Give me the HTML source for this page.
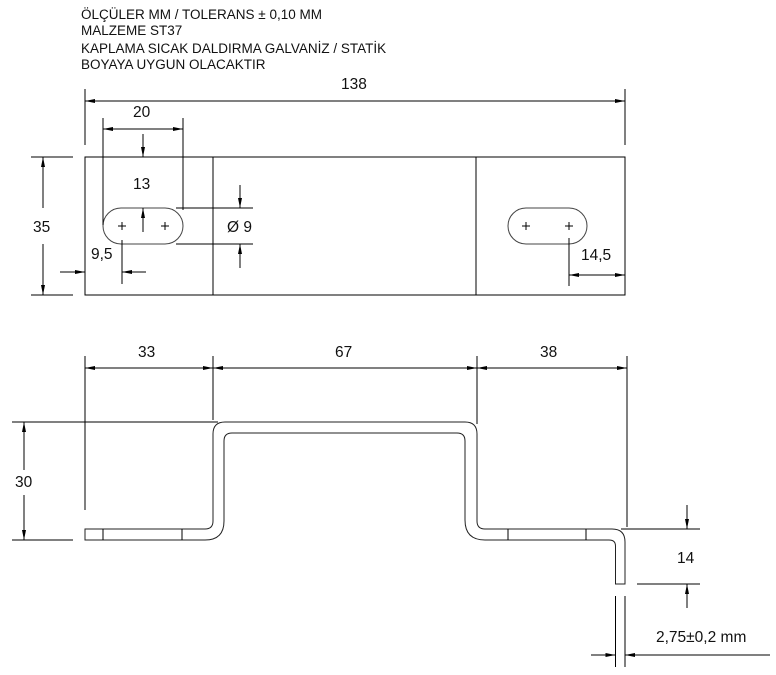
<!DOCTYPE html>
<html><head><meta charset="utf-8"><style>
html,body{margin:0;padding:0;background:#fff;}
svg{display:block}
text{font-family:"Liberation Sans",Arial,sans-serif;fill:#111;}
</style></head><body>
<svg width="776" height="675" viewBox="0 0 776 675" xmlns="http://www.w3.org/2000/svg">
<defs>
<marker id="a" viewBox="0 0 10 4" refX="10" refY="2" markerWidth="10" markerHeight="4" markerUnits="userSpaceOnUse" orient="auto-start-reverse">
<path d="M0,0 L10,2 L0,4 z" fill="#000"/></marker>
</defs>
<g font-size="13.5">
<text x="81" y="19">ÖLÇÜLER MM / TOLERANS ± 0,10 MM</text>
<text x="81" y="35">MALZEME ST37</text>
<text x="81" y="53">KAPLAMA SICAK DALDIRMA GALVANİZ / STATİK</text>
<text x="81" y="69">BOYAYA UYGUN OLACAKTIR</text>
</g>
<g stroke="#000" stroke-width="1" fill="none">
<rect x="85" y="157" width="540" height="138"/>
<line x1="213" y1="157" x2="213" y2="295"/>
<line x1="476" y1="157" x2="476" y2="295"/>
<path d="M121,208 H165 A18,18 0 0 1 165,244 H121 A18,18 0 0 1 121,208 Z" stroke="#444"/>
<path d="M526,208 H569 A18,18 0 0 1 569,244 H526 A18,18 0 0 1 526,208 Z" stroke="#444"/>
<path d="M118,226 h8 M122,222 v8 M161,226 h8 M165,222 v8 M522,226 h8 M526,222 v8 M565,226 h8 M569,222 v8"/>
<line x1="85" y1="89" x2="85" y2="145"/>
<line x1="625" y1="89" x2="625" y2="145"/>
<line x1="85" y1="101" x2="625" y2="101" marker-start="url(#a)" marker-end="url(#a)"/>
<line x1="103" y1="118" x2="103" y2="225"/>
<line x1="183" y1="118" x2="183" y2="210"/>
<line x1="103" y1="129" x2="183" y2="129" marker-start="url(#a)" marker-end="url(#a)"/>
<line x1="143" y1="134" x2="143" y2="157" marker-end="url(#a)"/>
<line x1="143" y1="232" x2="143" y2="208" marker-end="url(#a)"/>
<line x1="31" y1="157" x2="73" y2="157"/>
<line x1="31" y1="295" x2="73" y2="295"/>
<line x1="43" y1="157" x2="43" y2="208" marker-start="url(#a)"/>
<line x1="43" y1="244" x2="43" y2="295" marker-end="url(#a)"/>
<line x1="122" y1="240" x2="122" y2="284"/>
<line x1="60" y1="272" x2="85" y2="272" marker-end="url(#a)"/>
<line x1="146" y1="272" x2="122" y2="272" marker-end="url(#a)"/>
<line x1="176" y1="208" x2="253" y2="208"/>
<line x1="176" y1="244" x2="253" y2="244"/>
<line x1="240" y1="185" x2="240" y2="208" marker-end="url(#a)"/>
<line x1="240" y1="268" x2="240" y2="244" marker-end="url(#a)"/>
<line x1="569" y1="238" x2="569" y2="286"/>
<line x1="569" y1="275" x2="625" y2="275" marker-start="url(#a)" marker-end="url(#a)"/>
<line x1="85" y1="356" x2="85" y2="510"/>
<line x1="213" y1="356" x2="213" y2="420"/>
<line x1="477" y1="356" x2="477" y2="424"/>
<line x1="627" y1="356" x2="627" y2="527"/>
<line x1="85" y1="368" x2="213" y2="368" marker-start="url(#a)" marker-end="url(#a)"/>
<line x1="213" y1="368" x2="477" y2="368" marker-start="url(#a)" marker-end="url(#a)"/>
<line x1="477" y1="368" x2="627" y2="368" marker-start="url(#a)" marker-end="url(#a)"/>
<line x1="12" y1="422" x2="218" y2="422"/>
<line x1="12" y1="540" x2="73" y2="540"/>
<line x1="24" y1="422" x2="24" y2="470" marker-start="url(#a)"/>
<line x1="24" y1="495" x2="24" y2="540" marker-end="url(#a)"/>
<path d="M85,529 H205 Q213,529 213,521 V434 Q213,422 225,422 H465 Q477,422 477,434 V521 Q477,529 485,529 H612 Q625,529 625,542 V584 H615.5 V546 Q615.5,540 609,540 H485 Q465,540 465,520 V441 Q465,433 457,433 H232 Q224,433 224,441 V521 Q224,540 205,540 H85 Z" stroke="#222"/>
<path d="M103,529 v11 M182,529 v11 M508,529 v11 M586,529 v11"/>
<line x1="621" y1="529" x2="700" y2="529"/>
<line x1="637" y1="584" x2="700" y2="584"/>
<line x1="687" y1="505" x2="687" y2="529" marker-end="url(#a)"/>
<line x1="687" y1="608" x2="687" y2="584" marker-end="url(#a)"/>
<line x1="615.5" y1="596" x2="615.5" y2="667"/>
<line x1="625" y1="596" x2="625" y2="667"/>
<line x1="591" y1="655" x2="615.5" y2="655" marker-end="url(#a)"/>
<line x1="770" y1="655" x2="625" y2="655"/>
<line x1="640" y1="655" x2="625" y2="655" marker-end="url(#a)"/>
</g>
<g font-size="15.5">
<text x="341" y="89">138</text>
<text x="133" y="117">20</text>
<text x="133" y="189">13</text>
<text x="33" y="232">35</text>
<text x="91" y="259">9,5</text>
<text x="227" y="232">Ø 9</text>
<text x="581" y="260">14,5</text>
<text x="138" y="357">33</text>
<text x="335" y="357">67</text>
<text x="540" y="357">38</text>
<text x="15" y="487">30</text>
<text x="677" y="563">14</text>
<text x="656" y="642">2,75±0,2 mm</text>
</g>
</svg>
</body></html>
